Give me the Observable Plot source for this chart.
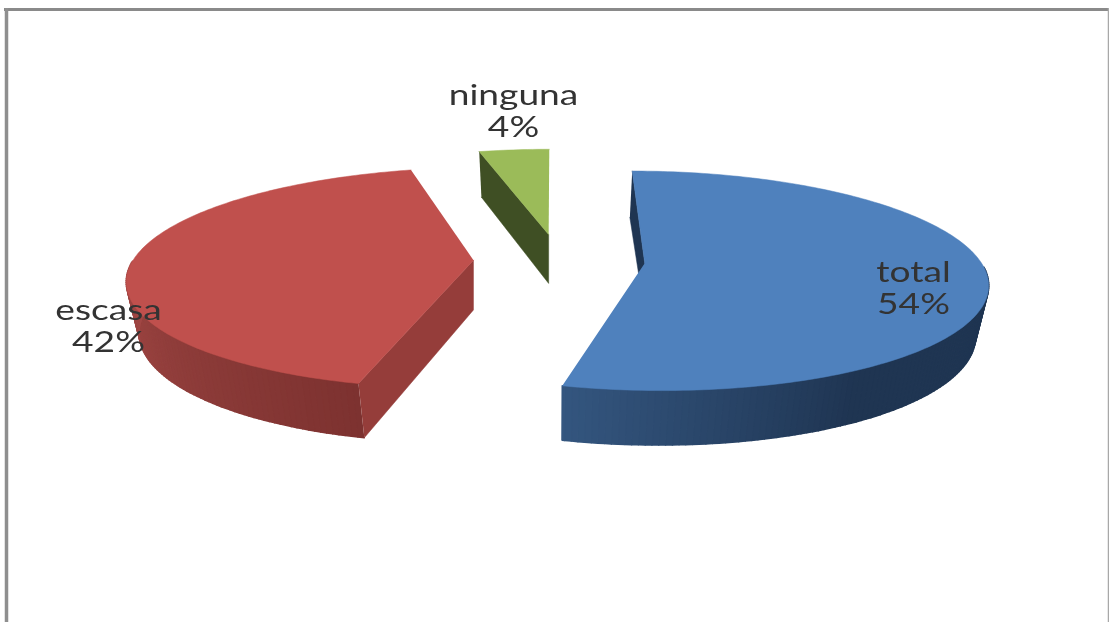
<!DOCTYPE html>
<html lang="es">
<head>
<meta charset="utf-8">
<script src="https://cdn.jsdelivr.net/npm/d3@7"></script>
<script src="https://cdn.jsdelivr.net/npm/@observablehq/plot@0.6"></script>
<style>
html,body{margin:0;padding:0;background:#fff;overflow:hidden}
svg{display:block;filter:blur(0.55px)}
</style>
</head>
<body>
<div id="chart"></div>
<script>
// data
const categories = ["total", "escasa", "ninguna"];
const shares = [54, 42, 4];

// styles, per category
const topColors = ["#4f81bd", "#c0504d", "#9bbb59"];
const cutColors = ["#1f3552", "#953d3a", "#3f4f24"];
const wallFrom = ["#34567f", "#7d3230", "#3f4f24"];
const wallTo = ["#1f3552", "#a64a47", "#3f4f24"];
const wallBlend = [45, 80, 1];        // degrees over which wall shading changes

// layout: how the pie sits on the page
const W = 1109, H = 622;
const pie = {cx: 553, cy: 265, rx: 339, ry: 108, persp: 0.16, depth: 50, floorShrink: 0.97};
const explodeX = [0.27, -0.238, -0.015];
const explodeY = [0.02, 0.05, 0.3];
const rimScale = [0.997, 1.012, 1];
const labelAt = [[913, 287], [108, 325], [513, 110]];

// shrink: the floor of the rim sits a little further from the viewer
const project = (X, Y, drop = 0, shrink = 1) => {
  const s = 1 / (1 + pie.persp * Y);
  return {x: pie.cx + X * pie.rx * s * shrink, y: pie.cy - Y * pie.ry * s + drop * Math.sqrt(s)};
};

const total = d3.sum(shares);
const marks = [];
let start = 0;

const slices = categories.map((name, i) => {
  const a0 = start, a1 = start + shares[i] / total * 360;
  start = a1;
  const ox = explodeX[i], oy = explodeY[i], r0 = rimScale[i];
  const onRim = (deg) => {
    const r = deg * Math.PI / 180;
    return [ox + r0 * Math.sin(r), oy + r0 * Math.cos(r)];
  };
  const degs = d3.range(a0, a1, 1).concat([a1]);
  return {name, i, a0, a1, degs, arc: degs.map(onRim), apex: [ox, oy]};
});

// back to front: green, then red and blue
const order = [2, 1, 0];
order.forEach(i => {
  const {name, arc, degs, apex, a0, a1} = slices[i];
  const e = arc[0];
  const pieceCut = [project(...e), project(...apex), project(...apex, pie.depth), project(...e, pie.depth, pie.floorShrink)]
    .map(p => ({...p, z: `${name}-cut`, fill: cutColors[i]}));
  const mix = d3.interpolateRgb(wallFrom[i], wallTo[i]);
  const pieceWall = [];
  const fromEnd = i === 1 ? a0 : a1;    // shade measured from the front cut
  for (let k = 0; k + 1 < arc.length; k++) {
    const deg = degs[k];
    if (Math.cos(deg * Math.PI / 180) > -0.02) continue;   // back of the rim is hidden
    const t = Math.min(1, Math.abs(deg - fromEnd) / wallBlend[i]);
    const z = `${name}-wall-${k}`;
    const fill = mix(t);
    [project(...arc[k]), project(...arc[k + 1]),
     project(...arc[k + 1], pie.depth, pie.floorShrink), project(...arc[k], pie.depth, pie.floorShrink)]
      .forEach(p => pieceWall.push({...p, z, fill}));
  }
  const pieceTop = [apex, ...arc].map(p => ({...project(...p), z: `${name}-top`, fill: topColors[i]}));
  if (pieceWall.length) marks.push(Plot.line(pieceWall, {x: "x", y: "y", z: "z", fill: "fill", stroke: "fill", strokeWidth: 1.6}));
  marks.push(Plot.line(pieceCut, {x: "x", y: "y", z: "z", fill: "fill", stroke: "fill", strokeWidth: 0.5}));
  marks.push(Plot.line(pieceTop, {x: "x", y: "y", z: "z", fill: "fill", stroke: "fill", strokeWidth: 0.5}));
});

const labels = categories.map((name, i) => ({
  text: `${name}\n${shares[i]}%`, x: labelAt[i][0], y: labelAt[i][1]
}));

const svg = Plot.plot({
  width: W, height: H, margin: 0,
  style: {background: "#fff"},
  x: {domain: [0, W], range: [0, W], axis: null},
  y: {domain: [0, H], range: [0, H], axis: null},
  marks: [
    Plot.ruleY([9], {x1: 4, x2: W, stroke: "#8a8a8a", strokeWidth: 3}),
    Plot.ruleX([6], {y1: 8, y2: H, stroke: "#8f8f8f", strokeWidth: 3.5}),
    Plot.ruleX([1108], {y1: 8, y2: H, stroke: "#a8a8a8", strokeWidth: 1.5}),
    ...marks,
    Plot.text(labels, {
      x: "x", y: "y", text: "text", fontFamily: "Lato", fontSize: 29,
      lineHeight: 1.12, lineAnchor: "middle", fill: "#333", className: "lab"
    })
  ]
});
document.getElementById("chart").append(svg);

// The reference's lettering is stretched sideways
svg.querySelectorAll(".lab tspan, .lab text").forEach(el => {
  if (el.tagName === "text" && el.querySelector("tspan")) return;
  el.setAttribute("textLength", el.getComputedTextLength() * 1.28);
  el.setAttribute("lengthAdjust", "spacingAndGlyphs");
});
</script>
</body>
</html>
